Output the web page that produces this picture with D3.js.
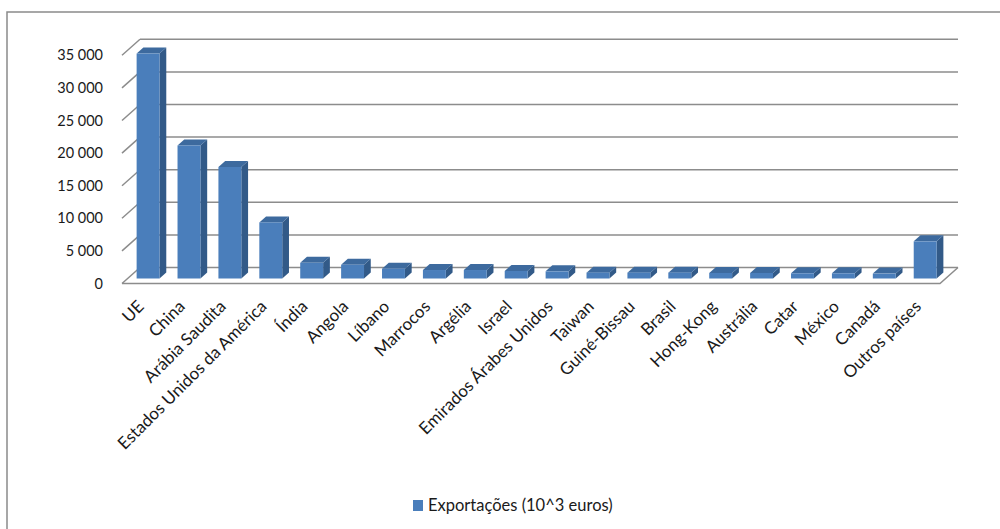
<!DOCTYPE html>
<html>
<head>
<meta charset="utf-8">
<script src="https://cdn.jsdelivr.net/npm/d3@7/dist/d3.min.js"></script>
<style>
  html, body { margin: 0; padding: 0; background: #fff; }
  svg { display: block; }
</style>
</head>
<body>
<svg id="chart" width="1000" height="529"></svg>
<script>
const categories = ["UE", "China", "Arábia Saudita", "Estados Unidos da América", "Índia", "Angola", "Líbano", "Marrocos", "Argélia", "Israel", "Emirados Árabes Unidos", "Taiwan", "Guiné-Bissau", "Brasil", "Hong-Kong", "Austrália", "Catar", "México", "Canadá", "Outros países"];
const exportacoes = [34500, 20400, 17100, 8600, 2400, 2100, 1500, 1300, 1300, 1150, 1100, 900, 900, 900, 850, 850, 800, 800, 750, 5700];
const yTicks = [0, 5000, 10000, 15000, 20000, 25000, 30000, 35000];
const seriesName = "Exportações (10^3 euros)";

const svg = d3.select("#chart");
const FONT = "Lato, 'Open Sans', sans-serif";
const GRID = "#8c8c8c";

// frame
svg.append("rect").attr("x", 7).attr("y", 12).attr("width", 1000).attr("height", 600)
  .attr("fill", "none").attr("stroke", "#8a8a8a").attr("stroke-width", 1.5);

// 3D depth vector (front plane -> back wall)
const DX = 18, DY = -16;
const x = d3.scaleBand().domain(categories).range([122, 940]).paddingInner(0.44).paddingOuter(0.22);
const y = d3.scaleLinear().domain([0, 35000]).range([283.5, 55.3]);
const P = (px, py, z) => [px + DX * z, py + DY * z];

const g = svg.append("g");
// side wall lines + back wall gridlines
yTicks.forEach(t => {
  const f = P(122, y(t), 0), b = P(122, y(t), 1), e = P(940, y(t), 1);
  g.append("line").attr("x1", f[0]).attr("y1", f[1]).attr("x2", b[0]).attr("y2", b[1])
    .attr("stroke", GRID).attr("stroke-width", 1.5);
  g.append("line").attr("x1", b[0]).attr("y1", b[1]).attr("x2", e[0]).attr("y2", e[1])
    .attr("stroke", GRID).attr("stroke-width", 1.5);
});
// floor front & right edges
{
  const a = P(122, y(0), 0), b = P(940, y(0), 0), c = P(940, y(0), 1);
  g.append("polyline").attr("points", [a, b, c].map(p => p.join(",")).join(" "))
    .attr("fill", "none").attr("stroke", GRID).attr("stroke-width", 1.5);
}

// bars
const Z0 = 0.3125, Z1 = 0.6875;
const bars = g.selectAll(".bar").data(categories.map((c, i) => ({ c, v: exportacoes[i] }))).join("g");
bars.each(function (d) {
  const sel = d3.select(this);
  const xl = x(d.c), xr = x(d.c) + x.bandwidth();
  const y0 = y(0), y1 = y(d.v);
  const poly = pts => pts.map(p => p.join(",")).join(" ");
  // side
  sel.append("polygon").attr("points", poly([P(xr, y0, Z0), P(xr, y0, Z1), P(xr, y1, Z1), P(xr, y1, Z0)]))
    .attr("fill", "#325a88");
  // top
  sel.append("polygon").attr("points", poly([P(xl, y1, Z0), P(xr, y1, Z0), P(xr, y1, Z1), P(xl, y1, Z1)]))
    .attr("fill", "#3d6a9e");
  // front
  const f0 = P(xl, y1, Z0), f1 = P(xr, y0, Z0);
  sel.append("rect").attr("x", f0[0]).attr("y", f0[1]).attr("width", f1[0] - f0[0]).attr("height", f1[1] - f0[1])
    .attr("fill", "#4a7ebb");
});

// y axis labels
const yAxis = d3.axisLeft(y).tickValues(yTicks).tickSize(0).tickPadding(0)
  .tickFormat(d3.formatLocale({ decimal: ",", thousands: " ", grouping: [3], currency: ["", "€"] }).format(",d"));
const ya = svg.append("g").attr("transform", "translate(103,0)").call(yAxis);
ya.select(".domain").remove();
ya.selectAll("text").attr("font-family", FONT).attr("font-size", 14.5).attr("fill", "#1a1a1a");

// x axis labels
const xAxis = d3.axisBottom(x).tickSize(0).tickPadding(0);
const xa = svg.append("g").attr("transform", "translate(-1,304)").call(xAxis);
xa.select(".domain").remove();
xa.selectAll("text").attr("font-family", FONT).attr("font-size", 17).attr("fill", "#1a1a1a")
  .attr("text-anchor", "end").attr("dy", "0.3em").attr("y", 0).attr("x", 0)
  .attr("transform", "rotate(-45)");

// legend
const lg = svg.append("g").attr("transform", "translate(413,500)");
lg.append("rect").attr("width", 10).attr("height", 11).attr("fill", "#4a7ebb");
lg.append("text").attr("x", 15).attr("y", 5.5).attr("dy", "0.35em").text(seriesName)
  .attr("font-family", FONT).attr("font-size", 16.5).attr("fill", "#1a1a1a");
</script>
</body>
</html>
